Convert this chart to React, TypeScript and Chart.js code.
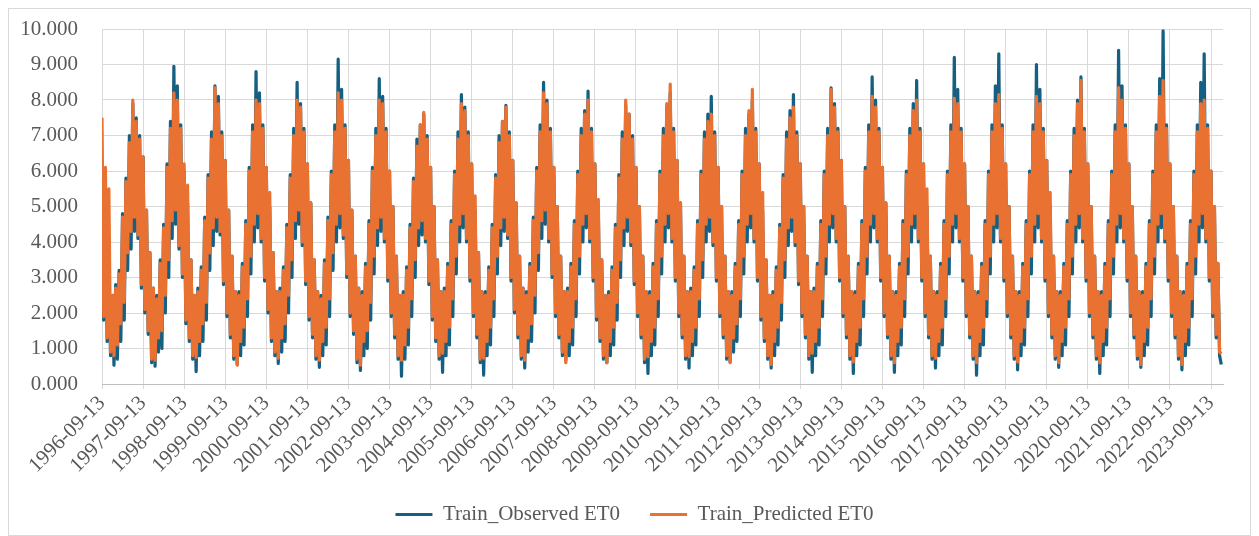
import React, { useEffect, useRef } from "react";
import { Chart, registerables } from "chart.js";

Chart.register(...registerables);

// Tick labels of the x axis (one per year, every 24 semi-monthly samples)
const yearTickLabels = [
  "1996-09-13", "1997-09-13", "1998-09-13", "1999-09-13", "2000-09-13", "2001-09-13", "2002-09-13",
  "2003-09-13", "2004-09-13", "2005-09-13", "2006-09-13", "2007-09-13", "2008-09-13", "2009-09-13",
  "2010-09-13", "2011-09-13", "2012-09-13", "2013-09-13", "2014-09-13", "2015-09-13", "2016-09-13",
  "2017-09-13", "2018-09-13", "2019-09-13", "2020-09-13", "2021-09-13", "2022-09-13", "2023-09-13",
];
const samplesPerYear = 24;
const yTicks = [0, 1, 2, 3, 4, 5, 6, 7, 8, 9, 10];

const seriesNames = ["Train_Observed ET0", "Train_Predicted ET0"];
const seriesColors = ["#156082", "#E97132"];

// Observed ET0: semi-monthly high / low readings, each row = Sep 13 .. Aug 28
const observedET0 = [
  3.7, 1.8, 5.2, 1.2, 3.4, 0.8, 2.5, 0.53, 2.8, 0.7, 3.2, 1.2, 4.8, 1.8, 5.8, 3.2, 7.0, 3.8, 7.9, 4.3, 7.5, 4.1, 7.0, 2.7, // 1996
  6.4, 2.0, 4.9, 1.4, 3.7, 0.6, 2.7, 0.5, 2.5, 0.9, 3.5, 1.0, 4.5, 2.0, 6.2, 3.0, 7.4, 4.1, 8.95, 4.5, 8.4, 3.8, 7.3, 3.0, // 1997
  6.0, 1.7, 5.1, 1.2, 3.5, 0.7, 2.5, 0.35, 2.7, 0.8, 3.3, 1.2, 4.7, 1.8, 5.9, 3.2, 7.1, 3.9, 8.4, 4.3, 8.1, 4.2, 7.1, 2.8, // 1998
  6.3, 1.9, 4.9, 1.3, 3.6, 0.7, 2.6, 0.55, 2.6, 0.8, 3.4, 1.1, 4.6, 1.9, 6.1, 3.1, 7.3, 4.0, 8.8, 4.4, 8.2, 4.0, 7.3, 2.9, // 1999
  6.1, 2.0, 5.0, 1.2, 3.7, 0.8, 2.6, 0.58, 2.7, 0.9, 3.3, 1.2, 4.5, 2.0, 5.9, 3.0, 7.2, 4.1, 8.5, 4.5, 7.9, 3.9, 7.2, 2.8, // 2000
  6.2, 1.8, 5.1, 1.3, 3.5, 0.7, 2.6, 0.47, 2.5, 0.8, 3.5, 1.1, 4.7, 1.9, 6.0, 3.2, 7.3, 4.0, 9.15, 4.4, 8.3, 4.1, 7.3, 3.0, // 2001
  6.3, 1.9, 4.9, 1.4, 3.6, 0.6, 2.7, 0.38, 2.6, 0.8, 3.4, 1.0, 4.6, 1.8, 6.1, 3.1, 7.2, 3.9, 8.6, 4.3, 8.1, 4.0, 7.2, 2.9, // 2002
  6.0, 1.9, 5.0, 1.3, 3.6, 0.7, 2.5, 0.22, 2.6, 0.7, 3.3, 1.1, 4.5, 1.9, 5.8, 3.0, 6.9, 3.9, 7.3, 4.2, 7.6, 4.0, 7.0, 2.8, // 2003
  6.1, 1.8, 5.0, 1.2, 3.5, 0.7, 2.6, 0.33, 2.7, 0.8, 3.4, 1.1, 4.6, 1.9, 6.0, 3.1, 7.1, 4.0, 8.15, 4.4, 7.8, 4.0, 7.1, 2.9, // 2004
  6.2, 1.9, 4.9, 1.3, 3.7, 0.6, 2.6, 0.25, 2.6, 0.8, 3.3, 1.1, 4.5, 1.9, 5.9, 3.1, 7.0, 3.9, 7.4, 4.3, 7.85, 4.1, 7.1, 2.9, // 2005
  6.3, 2.0, 5.1, 1.3, 3.6, 0.7, 2.7, 0.45, 2.6, 0.9, 3.4, 1.2, 4.7, 2.0, 6.1, 3.2, 7.3, 4.1, 8.5, 4.5, 8.0, 4.0, 7.2, 3.0, // 2006
  6.1, 1.9, 5.0, 1.3, 3.6, 0.8, 2.6, 0.67, 2.7, 0.8, 3.4, 1.1, 4.6, 1.9, 6.0, 3.1, 7.2, 4.0, 7.7, 4.4, 8.25, 4.0, 7.2, 2.9, // 2007
  6.2, 1.8, 4.9, 1.2, 3.5, 0.7, 2.5, 0.6, 2.6, 0.8, 3.3, 1.1, 4.5, 1.8, 5.9, 3.0, 7.1, 3.9, 7.86, 4.3, 7.6, 3.9, 7.0, 2.8, // 2008
  6.1, 1.9, 5.0, 1.3, 3.6, 0.6, 2.6, 0.3, 2.6, 0.8, 3.4, 1.1, 4.6, 1.9, 6.0, 3.1, 7.2, 4.0, 7.8, 4.4, 8.2, 4.0, 7.2, 2.9, // 2009
  6.3, 1.9, 5.1, 1.3, 3.6, 0.7, 2.6, 0.45, 2.7, 0.8, 3.3, 1.1, 4.6, 1.9, 6.0, 3.0, 7.1, 4.0, 7.6, 4.3, 8.1, 3.9, 7.1, 2.9, // 2010
  6.1, 1.9, 5.0, 1.3, 3.6, 0.7, 2.6, 0.62, 2.6, 0.9, 3.4, 1.2, 4.6, 1.9, 6.0, 3.1, 7.2, 4.0, 7.6, 4.4, 8.0, 4.0, 7.2, 2.9, // 2011
  6.2, 1.8, 4.9, 1.2, 3.5, 0.7, 2.5, 0.45, 2.6, 0.8, 3.3, 1.1, 4.5, 1.8, 5.9, 3.0, 7.1, 3.9, 7.7, 4.3, 8.15, 3.9, 7.1, 2.8, // 2012
  6.2, 1.9, 5.0, 1.3, 3.6, 0.7, 2.6, 0.33, 2.7, 0.8, 3.4, 1.1, 4.6, 1.9, 6.0, 3.1, 7.2, 4.0, 8.34, 4.4, 7.9, 4.0, 7.2, 2.9, // 2013
  6.3, 1.9, 5.0, 1.3, 3.6, 0.7, 2.6, 0.3, 2.6, 0.8, 3.4, 1.1, 4.6, 1.9, 6.1, 3.1, 7.3, 4.0, 8.65, 4.4, 8.0, 4.0, 7.2, 2.9, // 2014
  6.1, 1.9, 5.1, 1.3, 3.6, 0.7, 2.6, 0.33, 2.6, 0.8, 3.4, 1.1, 4.6, 1.9, 6.0, 3.1, 7.2, 4.0, 7.9, 4.4, 8.55, 4.0, 7.2, 2.9, // 2015
  6.2, 1.9, 5.0, 1.3, 3.6, 0.7, 2.6, 0.45, 2.6, 0.8, 3.4, 1.1, 4.6, 1.9, 6.0, 3.1, 7.3, 4.0, 9.2, 4.4, 8.3, 4.0, 7.2, 2.9, // 2016
  6.2, 1.9, 5.0, 1.3, 3.6, 0.7, 2.6, 0.25, 2.6, 0.8, 3.4, 1.1, 4.6, 1.9, 6.0, 3.1, 7.3, 4.0, 8.4, 4.4, 9.3, 4.0, 7.3, 2.9, // 2017
  6.2, 1.9, 5.0, 1.3, 3.6, 0.7, 2.6, 0.4, 2.6, 0.8, 3.4, 1.1, 4.6, 1.9, 6.0, 3.1, 7.3, 4.0, 9.0, 4.4, 8.3, 4.0, 7.2, 2.9, // 2018
  6.3, 1.9, 5.0, 1.3, 3.6, 0.7, 2.6, 0.47, 2.6, 0.8, 3.4, 1.1, 4.6, 1.9, 6.0, 3.1, 7.2, 4.0, 8.0, 4.4, 8.65, 4.0, 7.2, 2.9, // 2019
  6.2, 1.9, 5.0, 1.3, 3.6, 0.7, 2.6, 0.3, 2.6, 0.8, 3.4, 1.1, 4.6, 1.9, 6.0, 3.1, 7.3, 4.0, 9.4, 4.4, 8.4, 4.0, 7.3, 2.9, // 2020
  6.2, 1.9, 5.0, 1.3, 3.6, 0.7, 2.6, 0.47, 2.6, 0.8, 3.4, 1.1, 4.6, 1.9, 6.0, 3.1, 7.3, 4.0, 8.6, 4.4, 9.95, 4.0, 7.3, 2.9, // 2021
  6.2, 1.9, 5.0, 1.3, 3.6, 0.7, 2.6, 0.4, 2.6, 0.8, 3.4, 1.1, 4.6, 1.9, 6.0, 3.1, 7.3, 4.0, 8.5, 4.4, 9.3, 4.0, 7.3, 2.9, // 2022
  6.0, 1.9, 5.0, 1.3, 3.4, 0.8, 0.55, // 2023 (to December)
];

// Predicted ET0: same sampling
const predictedET0 = [
  7.5, 1.9, 6.1, 1.3, 5.5, 0.9, 2.5, 0.8, 2.7, 1.1, 3.1, 1.7, 4.7, 2.3, 5.7, 3.7, 6.8, 4.3, 8.0, 4.7, 7.4, 4.2, 6.9, 2.8, // 1996
  6.4, 2.1, 4.9, 1.5, 3.7, 0.7, 2.7, 0.67, 2.4, 1.3, 3.4, 1.5, 4.4, 2.5, 6.1, 3.5, 7.2, 4.6, 8.2, 4.9, 8.0, 3.9, 7.2, 3.1, // 1997
  6.2, 1.8, 5.6, 1.3, 3.5, 0.8, 2.5, 0.75, 2.6, 1.2, 3.2, 1.7, 4.6, 2.3, 5.8, 3.7, 6.9, 4.4, 8.35, 4.7, 7.9, 4.3, 7.0, 2.9, // 1998
  6.3, 2.0, 4.9, 1.4, 3.6, 0.8, 2.6, 0.53, 2.5, 1.2, 3.3, 1.6, 4.5, 2.4, 6.0, 3.6, 7.1, 4.5, 8.0, 4.8, 7.9, 4.1, 7.2, 3.0, // 1999
  6.1, 2.1, 5.4, 1.3, 3.7, 0.9, 2.6, 0.73, 2.6, 1.3, 3.2, 1.7, 4.4, 2.5, 5.8, 3.5, 7.0, 4.6, 8.0, 4.9, 7.8, 4.0, 7.1, 2.9, // 2000
  6.2, 1.9, 5.1, 1.4, 3.5, 0.8, 2.6, 0.67, 2.4, 1.2, 3.4, 1.6, 4.6, 2.4, 5.9, 3.7, 7.1, 4.5, 8.2, 4.8, 8.0, 4.2, 7.2, 3.1, // 2001
  6.3, 2.0, 4.9, 1.5, 3.6, 0.7, 2.7, 0.53, 2.5, 1.2, 3.3, 1.5, 4.5, 2.3, 6.0, 3.6, 7.0, 4.4, 8.0, 4.7, 7.9, 4.1, 7.1, 3.0, // 2002
  6.0, 2.0, 5.0, 1.4, 3.6, 0.8, 2.5, 0.67, 2.5, 1.1, 3.2, 1.6, 4.4, 2.4, 5.7, 3.5, 6.7, 4.4, 7.3, 4.6, 7.65, 4.1, 6.9, 2.9, // 2003
  6.1, 1.9, 5.0, 1.3, 3.5, 0.8, 2.6, 0.87, 2.6, 1.2, 3.3, 1.6, 4.5, 2.4, 5.9, 3.6, 6.9, 4.5, 7.9, 4.8, 7.7, 4.1, 7.0, 3.0, // 2004
  6.2, 2.0, 5.3, 1.4, 3.7, 0.7, 2.6, 0.73, 2.5, 1.2, 3.2, 1.6, 4.4, 2.4, 5.8, 3.6, 6.8, 4.4, 7.4, 4.7, 7.8, 4.2, 7.0, 3.0, // 2005
  6.3, 2.1, 5.1, 1.4, 3.6, 0.8, 2.7, 0.67, 2.5, 1.3, 3.3, 1.7, 4.6, 2.5, 6.0, 3.7, 7.1, 4.6, 8.2, 4.9, 7.9, 4.1, 7.1, 3.1, // 2006
  6.1, 2.0, 5.0, 1.4, 3.6, 0.9, 2.6, 0.6, 2.6, 1.2, 3.3, 1.6, 4.5, 2.4, 5.9, 3.6, 7.0, 4.5, 7.6, 4.8, 8.0, 4.1, 7.1, 3.0, // 2007
  6.2, 1.9, 5.2, 1.3, 3.5, 0.8, 2.5, 0.6, 2.5, 1.2, 3.2, 1.6, 4.4, 2.3, 5.8, 3.5, 6.9, 4.4, 8.0, 4.7, 7.6, 4.0, 6.9, 2.9, // 2008
  6.1, 2.0, 5.0, 1.4, 3.6, 0.7, 2.6, 0.77, 2.5, 1.2, 3.3, 1.6, 4.5, 2.4, 5.9, 3.6, 7.0, 4.5, 7.9, 4.8, 8.45, 4.1, 7.1, 3.0, // 2009
  6.3, 2.0, 5.1, 1.4, 3.6, 0.8, 2.6, 0.77, 2.6, 1.2, 3.2, 1.6, 4.5, 2.4, 5.9, 3.5, 6.9, 4.5, 7.4, 4.7, 7.6, 4.0, 7.0, 3.0, // 2010
  6.1, 2.0, 5.0, 1.4, 3.6, 0.8, 2.6, 0.6, 2.5, 1.3, 3.3, 1.7, 4.5, 2.4, 5.9, 3.6, 7.0, 4.5, 7.7, 4.8, 8.3, 4.1, 7.1, 3.0, // 2011
  6.2, 1.9, 5.4, 1.3, 3.5, 0.8, 2.5, 0.55, 2.5, 1.2, 3.2, 1.6, 4.4, 2.3, 5.8, 3.5, 6.9, 4.4, 7.5, 4.7, 7.8, 4.0, 7.0, 2.9, // 2012
  6.2, 2.0, 5.0, 1.4, 3.6, 0.8, 2.6, 0.87, 2.6, 1.2, 3.3, 1.6, 4.5, 2.4, 5.9, 3.6, 7.0, 4.5, 8.3, 4.8, 7.8, 4.1, 7.1, 3.0, // 2013
  6.3, 2.0, 5.0, 1.4, 3.6, 0.8, 2.6, 0.62, 2.5, 1.2, 3.3, 1.6, 4.5, 2.4, 6.0, 3.6, 7.1, 4.5, 8.1, 4.8, 7.8, 4.1, 7.1, 3.0, // 2014
  6.1, 2.0, 5.1, 1.4, 3.6, 0.8, 2.6, 0.6, 2.5, 1.2, 3.3, 1.6, 4.5, 2.4, 5.9, 3.6, 7.0, 4.5, 7.7, 4.8, 8.0, 4.1, 7.1, 3.0, // 2015
  6.2, 2.0, 5.5, 1.4, 3.6, 0.8, 2.6, 0.73, 2.5, 1.2, 3.3, 1.6, 4.5, 2.4, 5.9, 3.6, 7.1, 4.5, 8.05, 4.8, 7.9, 4.1, 7.1, 3.0, // 2016
  6.2, 2.0, 5.0, 1.4, 3.6, 0.8, 2.6, 0.6, 2.5, 1.2, 3.3, 1.6, 4.5, 2.4, 5.9, 3.6, 7.1, 4.5, 7.9, 4.8, 8.15, 4.1, 7.2, 3.0, // 2017
  6.2, 2.0, 5.0, 1.4, 3.6, 0.8, 2.6, 0.62, 2.5, 1.2, 3.3, 1.6, 4.5, 2.4, 5.9, 3.6, 7.1, 4.5, 8.1, 4.8, 7.9, 4.1, 7.1, 3.0, // 2018
  6.3, 2.0, 5.4, 1.4, 3.6, 0.8, 2.6, 0.6, 2.5, 1.2, 3.3, 1.6, 4.5, 2.4, 5.9, 3.6, 7.0, 4.5, 7.9, 4.8, 8.55, 4.1, 7.1, 3.0, // 2019
  6.2, 2.0, 5.0, 1.4, 3.6, 0.8, 2.6, 0.6, 2.5, 1.2, 3.3, 1.6, 4.5, 2.4, 5.9, 3.6, 7.1, 4.5, 8.35, 4.8, 8.0, 4.1, 7.2, 3.0, // 2020
  6.2, 2.0, 5.0, 1.4, 3.6, 0.8, 2.6, 0.55, 2.5, 1.2, 3.3, 1.6, 4.5, 2.4, 5.9, 3.6, 7.1, 4.5, 8.1, 4.8, 8.55, 4.1, 7.2, 3.0, // 2021
  6.2, 2.0, 5.0, 1.4, 3.6, 0.8, 2.6, 0.55, 2.5, 1.2, 3.3, 1.6, 4.5, 2.4, 5.9, 3.6, 7.1, 4.5, 7.9, 4.8, 8.0, 4.1, 7.2, 3.0, // 2022
  6.0, 2.0, 5.0, 1.4, 3.4, 0.9, 0.85, // 2023 (to December)
];

const FONT_FAMILY = "'Liberation Serif', 'Times New Roman', serif";
const TEXT_COLOR = "#595959";
const GRID_COLOR = "#d9d9d9";

export default function App() {
  const canvasRef = useRef<HTMLCanvasElement>(null);

  useEffect(() => {
    const canvas = canvasRef.current;
    if (!canvas) return;
    const font = { family: FONT_FAMILY, size: 21 };
    const series = [observedET0, predictedET0];

    const legendPlacement = {
      id: "legendPlacement",
      afterLayout(chart: any) {
        const lg = chart.legend;
        if (lg) {
          lg.left = 5;
          lg.right = chart.width + 5;
        }
      },
    };

    const chart = new Chart(canvas, {
      type: "line",
      data: {
        datasets: series.map((values, k) => ({
          label: seriesNames[k],
          data: values.map((y, i) => ({ x: i, y })),
          borderColor: seriesColors[k],
          backgroundColor: seriesColors[k],
          borderWidth: 3.2,
          borderJoinStyle: "round" as const,
          pointRadius: 0,
          pointHoverRadius: 0,
          fill: false,
          tension: 0,
          order: k === 0 ? 1 : 0,
        })),
      },
      options: {
        responsive: false,
        animation: false,
        events: [],
        layout: { padding: { top: 20, right: 27, bottom: 0, left: 0 } },
        plugins: {
          tooltip: { enabled: false },
          legend: {
            position: "bottom",
            labels: {
              boxWidth: 37,
              boxHeight: 3,
              padding: 30,
              color: TEXT_COLOR,
              font,
              generateLabels: (c: any) =>
                Chart.defaults.plugins.legend.labels
                  .generateLabels(c)
                  .map((l: any) => ({ ...l, lineWidth: 0, fillStyle: seriesColors[l.datasetIndex] }))
                  .sort((a: any, b: any) => a.datasetIndex - b.datasetIndex),
            },
          },
        },
        scales: {
          x: {
            type: "linear",
            min: 0,
            max: 655,
            afterFit: (s: any) => {
              s.height = 90;
            },
            afterBuildTicks: (s: any) => {
              s.ticks = yearTickLabels.map((_, i) => ({ value: i * samplesPerYear }));
            },
            ticks: {
              autoSkip: false,
              maxRotation: 45,
              minRotation: 45,
              color: TEXT_COLOR,
              font,
              padding: 2,
              callback: (v: any) => yearTickLabels[Math.round(Number(v) / samplesPerYear)] ?? "",
            },
            grid: { color: GRID_COLOR, lineWidth: 1, tickLength: 5, drawTicks: true },
            border: { color: "#bfbfbf", width: 1 },
          },
          y: {
            min: 0,
            max: 10,
            afterFit: (s: any) => {
              s.width = 93;
            },
            afterBuildTicks: (s: any) => {
              s.ticks = yTicks.map((v) => ({ value: v }));
            },
            ticks: {
              color: TEXT_COLOR,
              font,
              padding: 0,
              callback: (v: any) => Number(v).toFixed(3),
            },
            grid: {
              color: GRID_COLOR,
              lineWidth: 1,
              drawTicks: true,
              tickLength: 24,
              tickColor: "rgba(0,0,0,0)",
            },
            border: { display: false },
          },
        },
      },
      plugins: [legendPlacement],
    });

    return () => chart.destroy();
  }, []);

  return (
    <div
      style={{
        width: 1241,
        height: 526,
        border: "1px solid #d9d9d9",
        background: "#ffffff",
      }}
    >
      <canvas ref={canvasRef} width={1241} height={526} style={{ display: "block" }} />
    </div>
  );
}
